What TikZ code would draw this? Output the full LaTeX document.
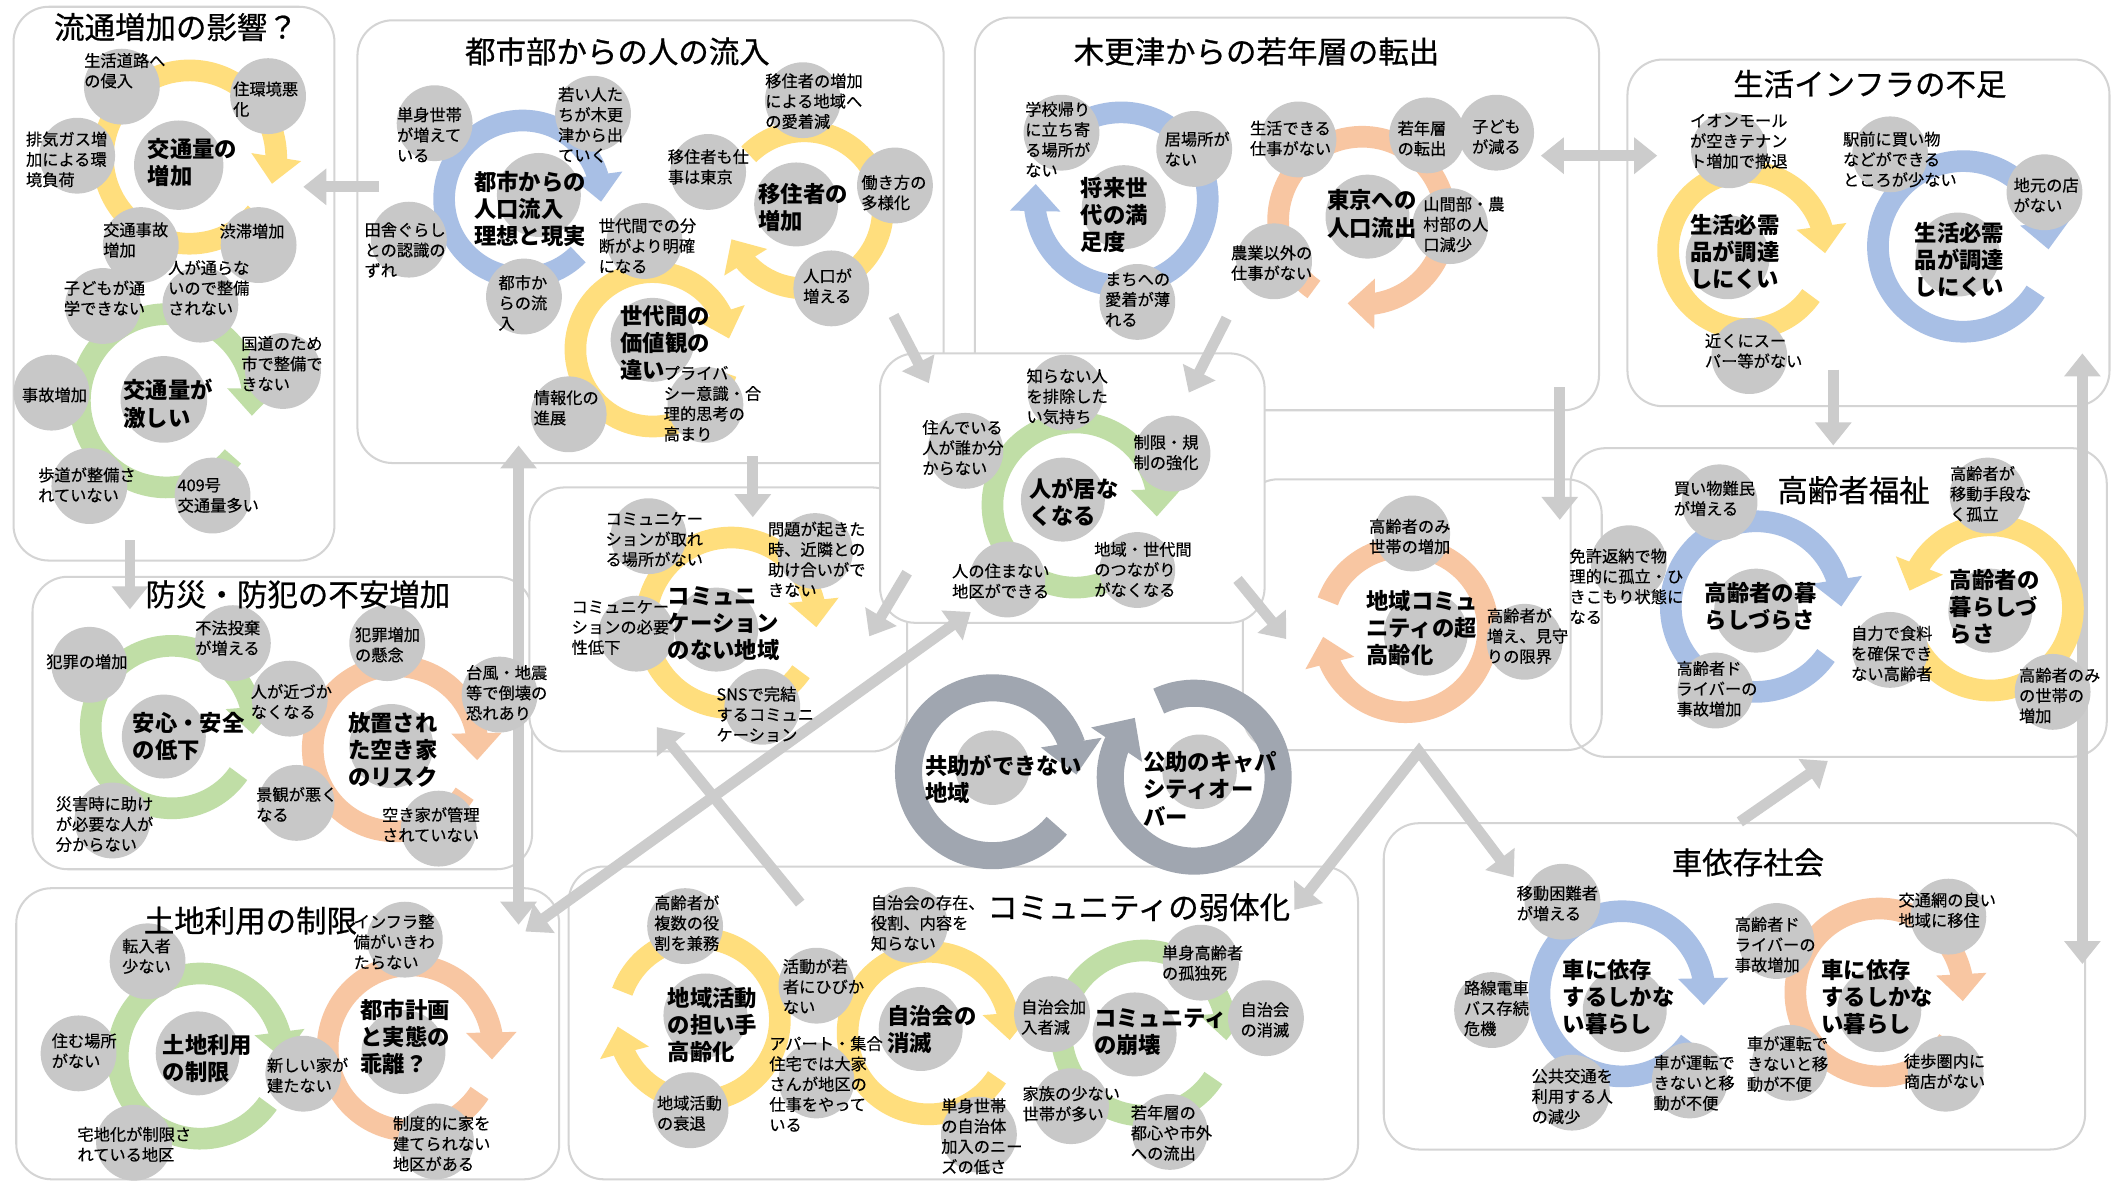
\documentclass[tikz,border=0pt]{standalone}
\usepackage{fontspec}
\setmainfont{Noto Sans CJK JP}
\newfontfamily\smf{Noto Sans CJK JP}[FakeBold=0.35]
\newfontfamily\ttf{Noto Sans CJK JP}[FakeBold=0.7]
\usetikzlibrary{arrows.meta,bending}
\definecolor{ylw}{RGB}{255,222,125}
\definecolor{blu}{RGB}{168,191,229}
\definecolor{grn}{RGB}{192,222,166}
\definecolor{org}{RGB}{248,198,162}
\definecolor{dgr}{RGB}{160,166,176}
\definecolor{bubg}{RGB}{200,200,200}
\definecolor{conc}{RGB}{204,204,204}
\definecolor{frm}{RGB}{212,212,212}
\pgfdeclarelayer{boxes}
\pgfdeclarelayer{conn}
\pgfdeclarelayer{rings}
\pgfdeclarelayer{circs}
\pgfsetlayers{boxes,conn,rings,circs,main}
\tikzset{
  panel/.style={draw=frm, line width=1.5pt, rounded corners=26pt, fill=white},
  panelnf/.style={draw=frm, line width=1.5pt, rounded corners=26pt},
  ttl/.style={font=\ttf\fontsize{22.5}{26}\selectfont, inner sep=0pt},
  bubc/.style={circle, fill=bubg, draw=none, inner sep=0pt},
  stxt/.style={font=\smf\fontsize{12}{15}\selectfont, align=left, inner sep=0pt, anchor=north west, yshift=6pt},
  btxt/.style={font=\bfseries\fontsize{16.5}{20}\selectfont, align=left, inner sep=0pt, anchor=north west, yshift=8pt},
  ringst/.style={line width=16pt, -{Triangle[length=20pt,width=36pt]}},
  ringgst/.style={line width=20pt, draw=dgr, -{Triangle[length=24pt,width=44pt]}},
  arw/.style={draw=conc, line width=8pt, -{Triangle[length=17pt,width=26pt]}},
  arww/.style={draw=conc, line width=8pt, {Triangle[length=17pt,width=26pt]}-{Triangle[length=17pt,width=26pt]}},
}
\newcommand\bub[5][56]{%
  \begin{pgfonlayer}{circs}\node[bubc,minimum size=#1pt] (#2) at (#3) {};\end{pgfonlayer}%
  \node[stxt] (#2t) at (#4) {#5};}
\newcommand\cbub[5][62]{%
  \begin{pgfonlayer}{circs}\node[bubc,minimum size=#1pt] (#2) at (#3) {};\end{pgfonlayer}%
  \node[btxt] (#2t) at (#4) {#5};}
\newcommand\ringa[5]{%
  \begin{pgfonlayer}{rings}\draw[ringst,draw=#5] (#1) ++(#3:#2) arc[start angle=#3,end angle=#4,radius=#2];\end{pgfonlayer}}
\newcommand\ringg[4]{%
  \begin{pgfonlayer}{rings}\draw[ringgst] (#1) ++(#3:#2) arc[start angle=#3,end angle=#4,radius=#2];\end{pgfonlayer}}
\begin{document}
\begin{tikzpicture}[x=1pt,y=-1pt]
\begin{pgfonlayer}{boxes}
\fill[white] (0,0) rectangle (1568,874);
\draw[panel] (10,5) rectangle (247,414);
\draw[panel] (264,15) rectangle (697,342);
\draw[panel] (720,13) rectangle (1181,303);
\draw[panel] (1202,44) rectangle (1558,300);
\draw[panel] (24,426) rectangle (393,642);
\draw[panel] (12,656) rectangle (413,871);
\draw[panel] (420,640) rectangle (1003,871);
\draw[panel] (1022,608) rectangle (1540,849);
\draw[panel] (391,360) rectangle (670,555);
\draw[panelnf] (918,354) rectangle (1183,554);
\draw[panelnf] (1160,331) rectangle (1556,559);
\draw[panel] (650,261) rectangle (934,460);
\end{pgfonlayer}
\useasboundingbox (0,0) rectangle (1568,874);

% titles
\node[ttl] (tA) at (130,20) {流通増加の影響？};
\node[ttl] (tB) at (456,38) {都市部からの人の流入};
\node[ttl] (tC) at (928,38) {木更津からの若年層の転出};
\node[ttl] (tK) at (1381,62) {生活インフラの不足};
\node[ttl] (tF) at (1369,362) {高齢者福祉};
\node[ttl] (tJ) at (220,439) {防災・防犯の不安増加};
\node[ttl] (tI) at (185,680) {土地利用の制限};
\node[ttl] (tH) at (841,670) {コミュニティの弱体化};
\node[ttl] (tL) at (1291,637) {車依存社会};

% rings
\ringa{140,116}{64}{40}{378}{ylw}
\ringa{123,296}{64}{40}{370}{grn}
\ringa{386,147}{58}{45}{362}{blu}
\ringa{594,155}{58}{225}{518}{ylw}
\ringa{482,258}{57}{18}{352}{ylw}
\ringa{828,147}{64}{215}{550}{blu}
\ringa{1006,163}{62}{125}{460}{org}
\ringa{1290,185}{58}{35}{362}{ylw}
\ringa{1450,182}{63}{32}{362}{blu}
\ringa{794,373}{61}{35}{368}{grn}
\ringa{540,460}{63}{35}{363}{ylw}
\ringa{1038,465}{61}{200}{535}{org}
\ringa{1297,448}{63}{35}{360}{blu}
\ringa{1470,449}{61}{155}{-168}{ylw}
\ringa{127,537}{60}{35}{365}{grn}
\ringa{292,553}{61}{33}{368}{org}
\ringa{148,780}{61}{35}{362}{grn}
\ringa{303,774}{61}{33}{368}{org}
\ringa{516,753}{60}{200}{535}{ylw}
\ringa{686,763}{60}{33}{365}{ylw}
\ringa{845,763}{61}{33}{365}{grn}
\ringa{1198,734}{61}{35}{368}{blu}
\ringa{1388,733}{62}{35}{366}{org}
\ringg{733,570}{62}{40}{362}
\ringg{882,574}{62}{245}{585}

% panel A
\cbub[66]{a4}{132,122}{109,110}{交通量の\\増加}
\bub{a1}{90,64}{62,45}{生活道路へ\\の侵入}
\bub{a2}{198,71}{172,66}{住環境悪\\化}
\bub{a3}{57,115}{19,103}{排気ガス増\\加による環\\境負荷}
\bub{a5}{104,181}{76,170}{交通事故\\増加}
\bub{a6}{191,181}{162,171}{渋滞増加}
\bub{a7}{76,226}{47,213}{子どもが通\\学できない}
\bub{a8}{148,225}{124,198}{人が通らな\\いので整備\\されない}
\bub{a9}{209,274}{178,254}{国道のため\\市で整備で\\きない}
\bub{a10}{38,290}{16,292}{事故増加}
\cbub[64]{a11}{121,295}{91,288}{交通量が\\激しい}
\bub{a12}{66,359}{28,351}{歩道が整備さ\\れていない}
\bub{a13}{157,366}{131,359}{409号\\交通量多い}

% panel B
\bub{b1}{321,91}{293,85}{単身世帯\\が増えて\\いる}
\bub{b2}{438,84}{412,70}{若い人た\\ちが木更\\津から出\\ていく}
\cbub{b3}{398,144}{350,134}{都市からの\\人口流入\\理想と現実}
\bub{b4}{302,177}{269,170}{田舎ぐらし\\との認識の\\ずれ}
\bub{b5}{387,219}{368,209}{都市か\\らの流\\入}
\bub{b6}{476,178}{442,167}{世代間での分\\断がより明確\\になる}
\bub{b7}{523,127}{493,116}{移住者も仕\\事は東京}
\bub{b8}{593,74}{565,60}{移住者の増加\\による地域へ\\の愛着減}
\cbub{b9}{588,151}{560,143}{移住者の\\増加}
\bub{b10}{661,137}{636,135}{働き方の\\多様化}
\bub{b11}{614,213}{593,204}{人口が\\増える}
\cbub{b12}{482,251}{458,233}{世代間の\\価値観の\\違い}
\bub{b13}{521,299}{490,276}{プライバ\\シー意識・合\\理的思考の\\高まり}
\bub{b14}{420,306}{394,294}{情報化の\\進展}

% panel C
\bub{c1}{784,98}{757,81}{学校帰り\\に立ち寄\\る場所が\\ない}
\bub{c2}{882,110}{860,103}{居場所が\\ない}
\cbub{c3}{830,153}{798,139}{将来世\\代の満\\足度}
\bub{c4}{840,223}{816,207}{まちへの\\愛着が薄\\れる}
\bub{c5}{959,103}{923,95}{生活できる\\仕事がない}
\bub{c6}{1054,100}{1032,95}{若年層\\の転出}
\bub{c7}{1105,98}{1087,94}{子ども\\が減る}
\cbub{c8}{1010,160}{980,148}{東京への\\人口流出}
\bub{c9}{1071,167}{1051,151}{山間部・農\\村部の人\\口減少}
\bub{c10}{941,193}{909,187}{農業以外の\\仕事がない}

% panel K
\bub{k1}{1277,111}{1248,90}{イオンモール\\が空きテナン\\ト増加で撤退}
\bub{k2}{1396,114}{1361,103}{駅前に買い物\\などができる\\ところが少ない}
\bub{k3}{1510,142}{1487,137}{地元の店\\がない}
\cbub{k4}{1276,190}{1248,166}{生活必需\\品が調達\\しにくい}
\cbub{k5}{1446,188}{1414,172}{生活必需\\品が調達\\しにくい}
\bub{k6}{1292,263}{1259,252}{近くにスー\\パー等がない}

% central
\bub{m1}{787,290}{758,278}{知らない人\\を排除した\\い気持ち}
\bub{m2}{713,333}{681,316}{住んでいる\\人が誰か分\\からない}
\bub{m3}{866,335}{837,327}{制限・規\\制の強化}
\cbub{m4}{785,369}{760,361}{人が居な\\くなる}
\bub{m5}{744,428}{703,422}{人の住まない\\地区ができる}
\bub{m6}{840,421}{808,406}{地域・世代間\\のつながり\\がなくなる}

% panel D
\bub{d1}{479,396}{447,384}{コミュニケー\\ションが取れ\\る場所がない}
\bub{d2}{602,407}{567,391}{問題が起きた\\時、近隣との\\助け合いがで\\きない}
\cbub{d3}{529,465}{493,441}{コミュニ\\ケーション\\のない地域}
\bub{d4}{470,468}{422,449}{コミュニケー\\ションの必要\\性低下}
\bub{d5}{563,522}{529,513}{SNSで完結\\するコミュニ\\ケーション}

% panel E
\bub{e1}{1043,394}{1011,389}{高齢者のみ\\世帯の増加}
\cbub{e2}{1053,468}{1009,444}{地域コミュ\\ニティの超\\高齢化}
\bub{e3}{1126,474}{1098,455}{高齢者が\\増え、見守\\りの限界}

% panel F
\bub{f1}{1270,371}{1236,361}{買い物難民\\が増える}
\bub{f2}{1468,366}{1440,350}{高齢者が\\移動手段な\\く孤立}
\bub{f3}{1203,416}{1159,411}{免許返納で物\\理的に孤立・ひ\\きこもり状態に\\なる}
\cbub{f4}{1297,451}{1259,438}{高齢者の暮\\らしづらさ}
\cbub{f5}{1470,451}{1440,428}{高齢者の\\暮らしづ\\らさ}
\bub{f6}{1396,480}{1367,468}{自力で食料\\を確保でき\\ない高齢者}
\bub{f7}{1267,510}{1238,494}{高齢者ド\\ライバーの\\事故増加}
\bub{f8}{1516,511}{1491,499}{高齢者のみ\\の世帯の\\増加}

% panel J
\bub{j1}{172,475}{144,464}{不法投棄\\が増える}
\bub{j2}{66,491}{34,489}{犯罪の増加}
\bub{j3}{286,475}{262,469}{犯罪増加\\の懸念}
\bub{j4}{214,516}{185,511}{人が近づか\\なくなる}
\bub{j5}{369,513}{344,497}{台風・地震\\等で倒壊の\\恐れあり}
\cbub{j6}{121,544}{98,534}{安心・安全\\の低下}
\cbub{j7}{289,551}{257,534}{放置され\\た空き家\\のリスク}
\bub{j8}{219,593}{189,587}{景観が悪く\\なる}
\bub{j9}{83,606}{41,594}{災害時に助け\\が必要な人が\\分からない}
\bub{j10}{324,612}{282,602}{空き家が管理\\されていない}

% panel I
\bub{i1}{299,694}{261,681}{インフラ整\\備がいきわ\\たらない}
\bub{i2}{109,710}{90,699}{転入者\\少ない}
\bub{i3}{58,778}{38,769}{住む場所\\がない}
\cbub{i4}{146,778}{120,772}{土地利用\\の制限}
\bub{i5}{224,793}{197,787}{新しい家が\\建たない}
\cbub{i6}{298,777}{266,746}{都市計画\\と実態の\\乖離？}
\bub{i7}{99,844}{57,838}{宅地化が制限さ\\れている地区}
\bub{i8}{322,843}{290,830}{制度的に家を\\建てられない\\地区がある}

% panel H
\bub{h1}{506,684}{483,667}{高齢者が\\複数の役\\割を兼務}
\bub{h2}{672,683}{643,667}{自治会の存在、\\役割、内容を\\知らない}
\bub{h3}{603,728}{578,714}{活動が若\\者にひびか\\ない}
\cbub{h4}{521,750}{493,737}{地域活動\\の担い手\\高齢化}
\cbub{h5}{680,760}{655,750}{自治会の\\消滅}
\bub{h6}{777,749}{754,744}{自治会加\\入者減}
\cbub{h7}{838,764}{808,753}{コミュニティ\\の崩壊}
\bub{h8}{887,711}{858,704}{単身高齢者\\の孤独死}
\bub{h9}{935,752}{916,746}{自治会\\の消滅}
\bub{h10}{603,798}{568,771}{アパート・集合\\住宅では大家\\さんが地区の\\仕事をやって\\いる}
\bub{h11}{510,820}{485,815}{地域活動\\の衰退}
\bub{h12}{723,838}{695,817}{単身世帯\\の自治体\\加入のニー\\ズの低さ}
\bub{h13}{791,817}{755,808}{家族の少ない\\世帯が多い}
\bub{h14}{864,836}{835,822}{若年層の\\都心や市外\\への流出}

% panel L
\bub{l1}{1154,666}{1120,660}{移動困難者\\が増える}
\bub{l2}{1439,677}{1402,665}{交通網の良い\\地域に移住}
\bub{l3}{1312,695}{1281,683}{高齢者ド\\ライバーの\\事故増加}
\bub{l4}{1102,746}{1081,730}{路線電車\\バス存続\\危機}
\cbub{l5}{1200,746}{1154,716}{車に依存\\するしかな\\い暮らし}
\cbub{l6}{1388,746}{1345,716}{車に依存\\するしかな\\い暮らし}
\bub{l7}{1161,807}{1131,795}{公共交通を\\利用する人\\の減少}
\bub{l8}{1248,798}{1221,785}{車が運転で\\きないと移\\動が不便}
\bub{l9}{1322,785}{1290,771}{車が運転で\\きないと移\\動が不便}
\bub{l10}{1437,793}{1406,784}{徒歩圏内に\\商店がない}

% gray cycles
\cbub[55]{g1}{733,567}{683,565}{共助ができない\\地域}
\cbub[55]{g2}{886,570}{844,563}{公助のキャパ\\シティオー\\バー}

% connectors
\coordinate (p1s) at (280,138); \coordinate (p1e) at (224,138);
\coordinate (p2s) at (96,399); \coordinate (p2e) at (96,450);
\coordinate (p3s) at (383,329); \coordinate (p3e) at (383,683);
\coordinate (p4s) at (717,452); \coordinate (p4e) at (388,688);
\coordinate (p5s) at (556,337); \coordinate (p5e) at (556,382);
\coordinate (p6s) at (660,233); \coordinate (p6e) at (686,283);
\coordinate (p7s) at (906,235); \coordinate (p7e) at (878,290);
\coordinate (p8s) at (670,423); \coordinate (p8e) at (642,470);
\coordinate (p9s) at (914,428); \coordinate (p9e) at (950,472);
\coordinate (p10s) at (1048,555); \coordinate (p10e) at (956,672);
\coordinate (p11e) at (1118,648);
\coordinate (p12s) at (1285,607); \coordinate (p12e) at (1350,562);
\coordinate (p13s) at (591,667); \coordinate (p13e) at (485,537);
\coordinate (p14s) at (1138,115); \coordinate (p14e) at (1224,115);
\coordinate (p15s) at (1152,286); \coordinate (p15e) at (1152,384);
\coordinate (p16s) at (1354,273); \coordinate (p16e) at (1354,329);
\coordinate (p17s) at (1538,261); \coordinate (p17e) at (1538,712);
\begin{pgfonlayer}{conn}
\draw[arw] (p1s) -- (p1e);
\draw[arw] (p2s) -- (p2e);
\draw[arww] (p3s) -- (p3e);
\draw[arww] (p4s) -- (p4e);
\draw[arw] (p5s) -- (p5e);
\draw[arw] (p6s) -- (p6e);
\draw[arw] (p7s) -- (p7e);
\draw[arw] (p8s) -- (p8e);
\draw[arw] (p9s) -- (p9e);
\draw[arww] (p10e) -- (p10s) -- (p11e);
\draw[arw] (p12s) -- (p12e);
\draw[arw] (p13s) -- (p13e);
\draw[arww] (p14s) -- (p14e);
\draw[arw] (p15s) -- (p15e);
\draw[arw] (p16s) -- (p16e);
\draw[arww] (p17s) -- (p17e);
\end{pgfonlayer}
\end{tikzpicture}
\end{document}
